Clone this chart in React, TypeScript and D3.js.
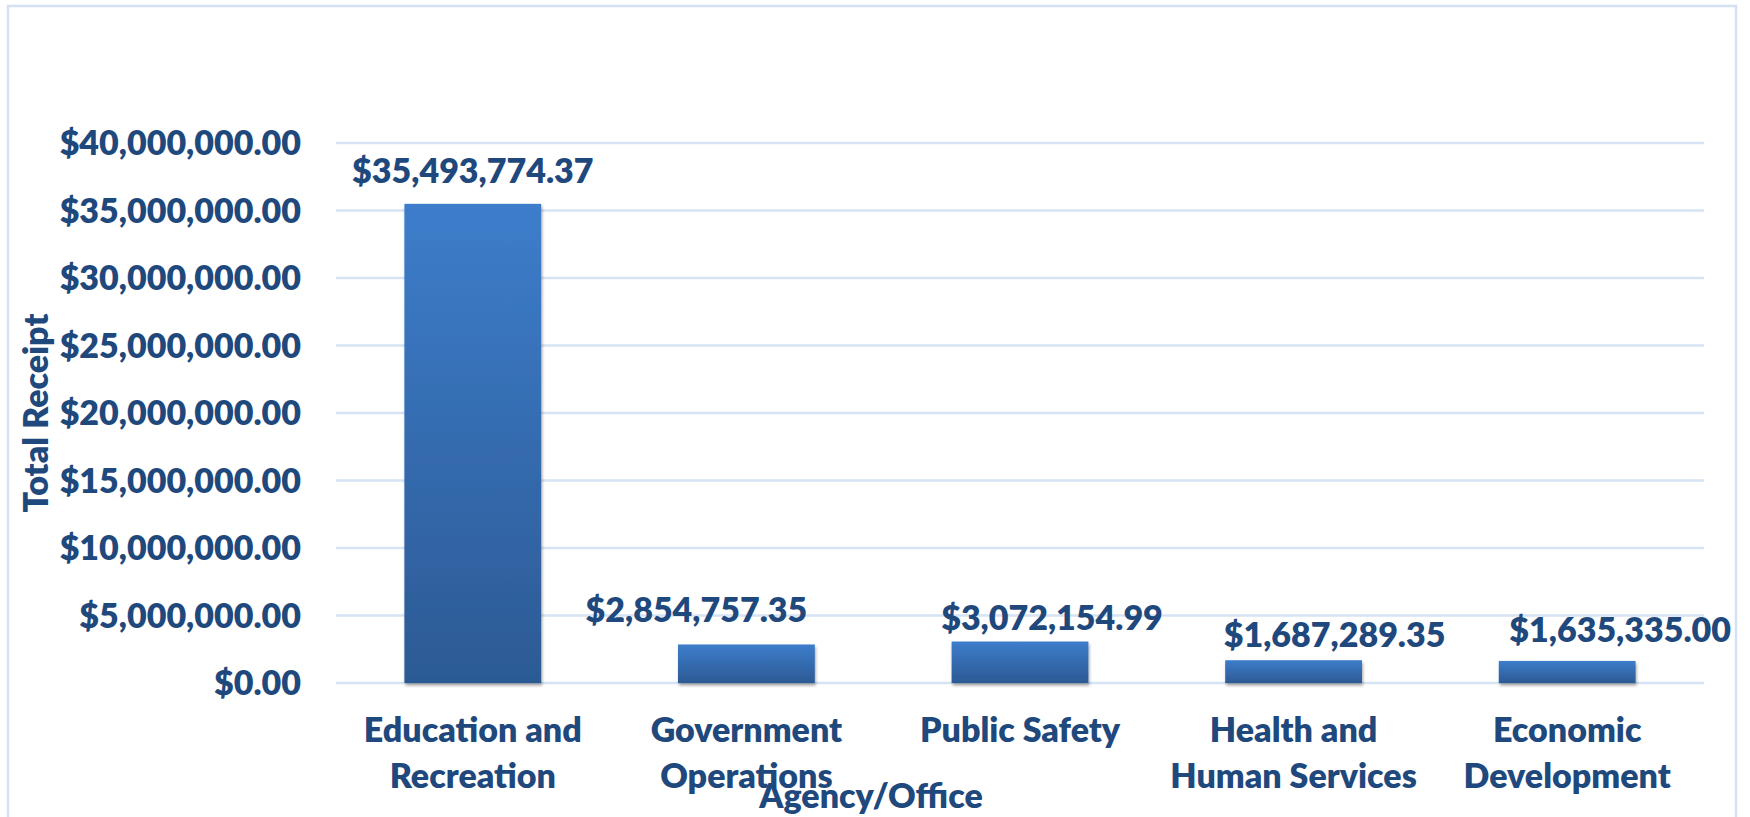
import React from "react";
import * as d3 from "d3";

const categories: string[][] = [
  ["Education and", "Recreation"],
  ["Government", "Operations"],
  ["Public Safety"],
  ["Health and", "Human Services"],
  ["Economic", "Development"],
];
const receipts: number[] = [35493774.37, 2854757.35, 3072154.99, 1687289.35, 1635335.0];
const yTicks: number[] = [0, 5000000, 10000000, 15000000, 20000000, 25000000, 30000000, 35000000, 40000000];
const yTitle = "Total Receipt";
const xTitle = "Agency/Office";

// manual label nudges (as dragged in the original)
const labelDx = [0, -50, 32, 41, 53];
const labelGap = [33, 35, 24, 25, 31];

const W = 1750;
const H = 817;
const plot = { left: 336, right: 1704, top: 143, bottom: 683 };
const TEXT = "#1F497D";
const FONT = "Lato, 'Open Sans', sans-serif";
const FS = 34;

export default function App() {
  const x = d3
    .scaleBand<number>()
    .domain(d3.range(receipts.length))
    .range([plot.left, plot.right])
    .paddingInner(0.5)
    .paddingOuter(0.25);
  const y = d3.scaleLinear().domain([0, 40000000]).range([plot.bottom, plot.top]);
  const money = (v: number) => "$" + d3.format(",.2f")(v);

  return (
    <svg
      width={W}
      height={H}
      style={{ position: "absolute", left: 0, top: 0, background: "#fff" }}
      fontFamily={FONT}
    >
      <defs>
        <linearGradient id="barGrad" x1="0" y1="0" x2="0" y2="1">
          <stop offset="0%" stopColor="#3D7DCB" />
          <stop offset="100%" stopColor="#2C5A94" />
        </linearGradient>
        <filter id="shadow" x="-10%" y="-10%" width="130%" height="130%">
          <feDropShadow dx="1" dy="2.5" stdDeviation="1.5" floodColor="#000" floodOpacity="0.35" />
        </filter>
      </defs>
      <rect x={8} y={6} width={1728} height={900} fill="#fff" stroke="#D3E1F3" strokeWidth={2.5} />

      {yTicks.map((t) => (
        <g key={t}>
          <line x1={plot.left} x2={plot.right} y1={y(t)} y2={y(t)} stroke="#D6E3F4" strokeWidth={2.5} />
          <text
            x={301}
            y={y(t)}
            dy="0.36em"
            textAnchor="end"
            fontSize={FS}
            fontWeight={800}
            fill={TEXT}
          >
            {money(t)}
          </text>
        </g>
      ))}

      {receipts.map((v, i) => {
        const bx = x(i)!;
        const bw = x.bandwidth();
        const top = y(v);
        return (
          <g key={i}>
            <rect x={bx} y={top} width={bw} height={y(0) - top} fill="url(#barGrad)" filter="url(#shadow)" />
            <text
              x={bx + bw / 2 + labelDx[i]}
              y={top - labelGap[i]}
              dy="0.36em"
              textAnchor="middle"
              fontSize={FS}
              fontWeight={800}
              fill={TEXT}
            >
              {money(v)}
            </text>
            <text textAnchor="middle" fontSize={FS} fontWeight={800} fill={TEXT}>
              {categories[i].map((line, j) => (
                <tspan key={j} x={bx + bw / 2} y={742 + j * 46}>
                  {line}
                </tspan>
              ))}
            </text>
          </g>
        );
      })}

      <text
        transform={`translate(48,${(plot.top + plot.bottom) / 2}) rotate(-90)`}
        textAnchor="middle"
        fontSize={FS}
        fontWeight={800}
        fill={TEXT}
      >
        {yTitle}
      </text>
      <text x={871} y={808} textAnchor="middle" fontSize={FS} fontWeight={800} fill={TEXT}>
        {xTitle}
      </text>
    </svg>
  );
}
